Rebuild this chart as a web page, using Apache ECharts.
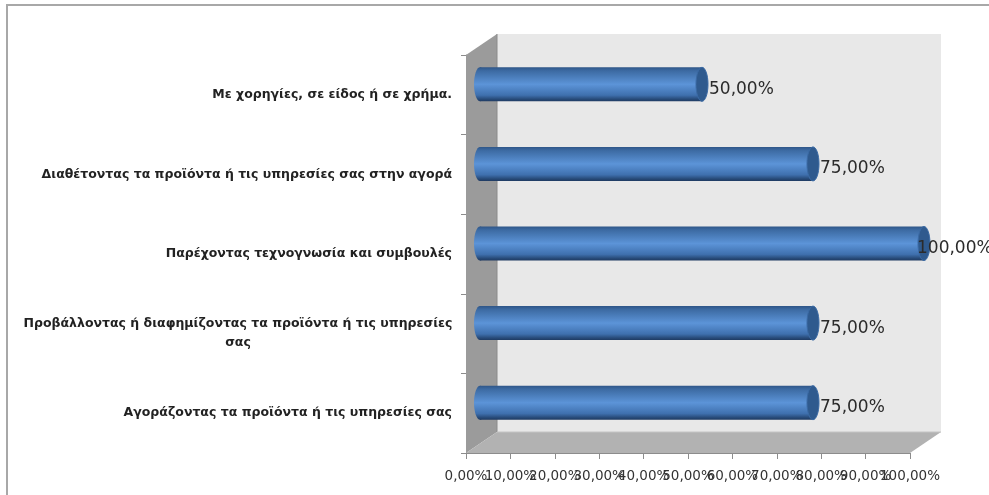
<!DOCTYPE html>
<html><head><meta charset="utf-8">
<style>html,body{margin:0;padding:0;background:#fff}#c{width:989px;height:495px}</style>
<script src="https://cdn.jsdelivr.net/npm/echarts@6/dist/echarts.min.js"></script>
</head><body><div id="c"></div>
<script>
const categories = [
  "Αγοράζοντας τα προϊόντα ή τις υπηρεσίες σας",
  "Προβάλλοντας ή διαφημίζοντας τα προϊόντα ή τις υπηρεσίες\nσας",
  "Παρέχοντας τεχνογνωσία και συμβουλές",
  "Διαθέτοντας τα προϊόντα ή τις υπηρεσίες σας στην αγορά",
  "Με χορηγίες, σε είδος ή σε χρήμα."
];
const values = [75, 75, 100, 75, 50];
const tickValues = [0, 10, 20, 30, 40, 50, 60, 70, 80, 90, 100];
const DX = 31, DY = -21, RX = 6, RY = 17, BAR_DX = 14;
const FONT = '"DejaVu Sans"';
const fmt = v => v.toFixed(2).replace('.', ',') + '%';
const chart = echarts.init(document.getElementById('c'), null, {renderer:'canvas'});
const vGrad = () => new echarts.graphic.LinearGradient(0,0,0,1,[
  {offset:0,color:'#2f5688'},{offset:0.1,color:'#3c6aa2'},{offset:0.5,color:'#5c94d8'},{offset:0.82,color:'#3f70ae'},{offset:0.94,color:'#274a78'},{offset:1,color:'#1f3a62'}]);
function walls(params, api){
  const c = params.coordSys, x0=c.x, x1=c.x+c.width, y0=c.y, y1=c.y+c.height;
  return {type:'group',silent:true,children:[
    {type:'polygon',shape:{points:[[x0+DX,y0+DY],[x1+DX,y0+DY],[x1+DX,y1+DY],[x0+DX,y1+DY]]},style:{fill:'#e8e8e8'}},
    {type:'polygon',shape:{points:[[x0,y0],[x0+DX,y0+DY],[x0+DX,y1+DY],[x0,y1]]},style:{fill:'#9b9b9b'}},
    {type:'polygon',shape:{points:[[x0,y1],[x0+DX,y1+DY],[x1+DX,y1+DY],[x1,y1]]},style:{fill:'#b2b2b2'}},
    {type:'line',shape:{x1:x0+DX,y1:y0+DY,x2:x0+DX,y2:y1+DY},style:{stroke:'#8a8a8a',lineWidth:1}},
    {type:'line',shape:{x1:x0+DX,y1:y1+DY,x2:x1+DX,y2:y1+DY},style:{stroke:'#c4c4c4',lineWidth:1}}
  ]};
}
function cyl(params, api){
  const p0 = api.coord([0, api.value(1)]), p1 = api.coord([api.value(0), api.value(1)]);
  const cy = p0[1]+DY/2, xa = p0[0]+BAR_DX, xb = p1[0]+BAR_DX;
  const body = vGrad();
  const maxX = api.getWidth()-72;
  return {type:'group',children:[
    {type:'ellipse',shape:{cx:xa,cy:cy,rx:RX,ry:RY},style:{fill:body}},
    {type:'rect',shape:{x:xa,y:cy-RY,width:xb-xa,height:RY*2},style:{fill:body}},
    {type:'ellipse',shape:{cx:xb,cy:cy,rx:RX,ry:RY},style:{fill:'#2f5a8e',stroke:'#3b6aa4',lineWidth:1}},
    {type:'text',style:{text:fmt(api.value(0)),x:Math.min(xb+RX+1,maxX),y:cy+5,
      verticalAlign:'middle',align:'left',fill:'#2b2b2b',font:'17px '+FONT},z2:10}
  ]};
}
function tickText(params, api){
  const p = api.coord([api.value(0), 0]);
  const c = params.coordSys;
  return {type:'text',silent:true,style:{text:fmt(api.value(0)),x:p[0],y:c.y+c.height+23,
    align:'center',verticalAlign:'middle',fill:'#333',font:'13.5px '+FONT}};
}
chart.setOption({
  animation:false,
  backgroundColor:'#fff',
  graphic:[{type:'polyline',shape:{points:[[7,495],[7,5],[989,5]]},style:{stroke:'#a8a8a8',fill:'none',lineWidth:2},silent:true}],
  grid:{left:466,top:55,width:444,height:398,containLabel:false},
  xAxis:{type:'value',min:0,max:100,interval:10,
    axisLine:{show:true,lineStyle:{color:'#8c8c8c',width:1}},
    axisTick:{show:true,length:6,lineStyle:{color:'#8c8c8c'}},
    splitLine:{show:false},
    axisLabel:{show:false}},
  yAxis:{type:'category',data:categories,
    axisLine:{show:true,lineStyle:{color:'#8c8c8c',width:1}},
    axisTick:{show:true,length:5,alignWithLabel:false,lineStyle:{color:'#8c8c8c'}},
    axisLabel:{interval:0,margin:14,color:'#222',fontFamily:'DejaVu Sans',fontSize:12.5,fontWeight:'bold',lineHeight:19,
      formatter:s=>s.includes('\n')?s.split('\n').map(t=>'{w|'+t+'}').join('\n'):s,
      rich:{w:{width:428,align:'center',fontFamily:'DejaVu Sans',fontSize:12.5,fontWeight:'bold',color:'#222',lineHeight:19}}}},
  series:[
    {type:'custom',name:'walls',data:[[0,0]],renderItem:walls,z:1,silent:true,clip:false},
    {type:'custom',name:'values',data:values.map((v,i)=>[v,i]),encode:{x:0,y:1},renderItem:cyl,z:3,clip:false},
    {type:'custom',name:'ticks',data:tickValues.map(v=>[v]),encode:{x:0},renderItem:tickText,z:4,clip:false,silent:true}
  ]
});
</script></body></html>
